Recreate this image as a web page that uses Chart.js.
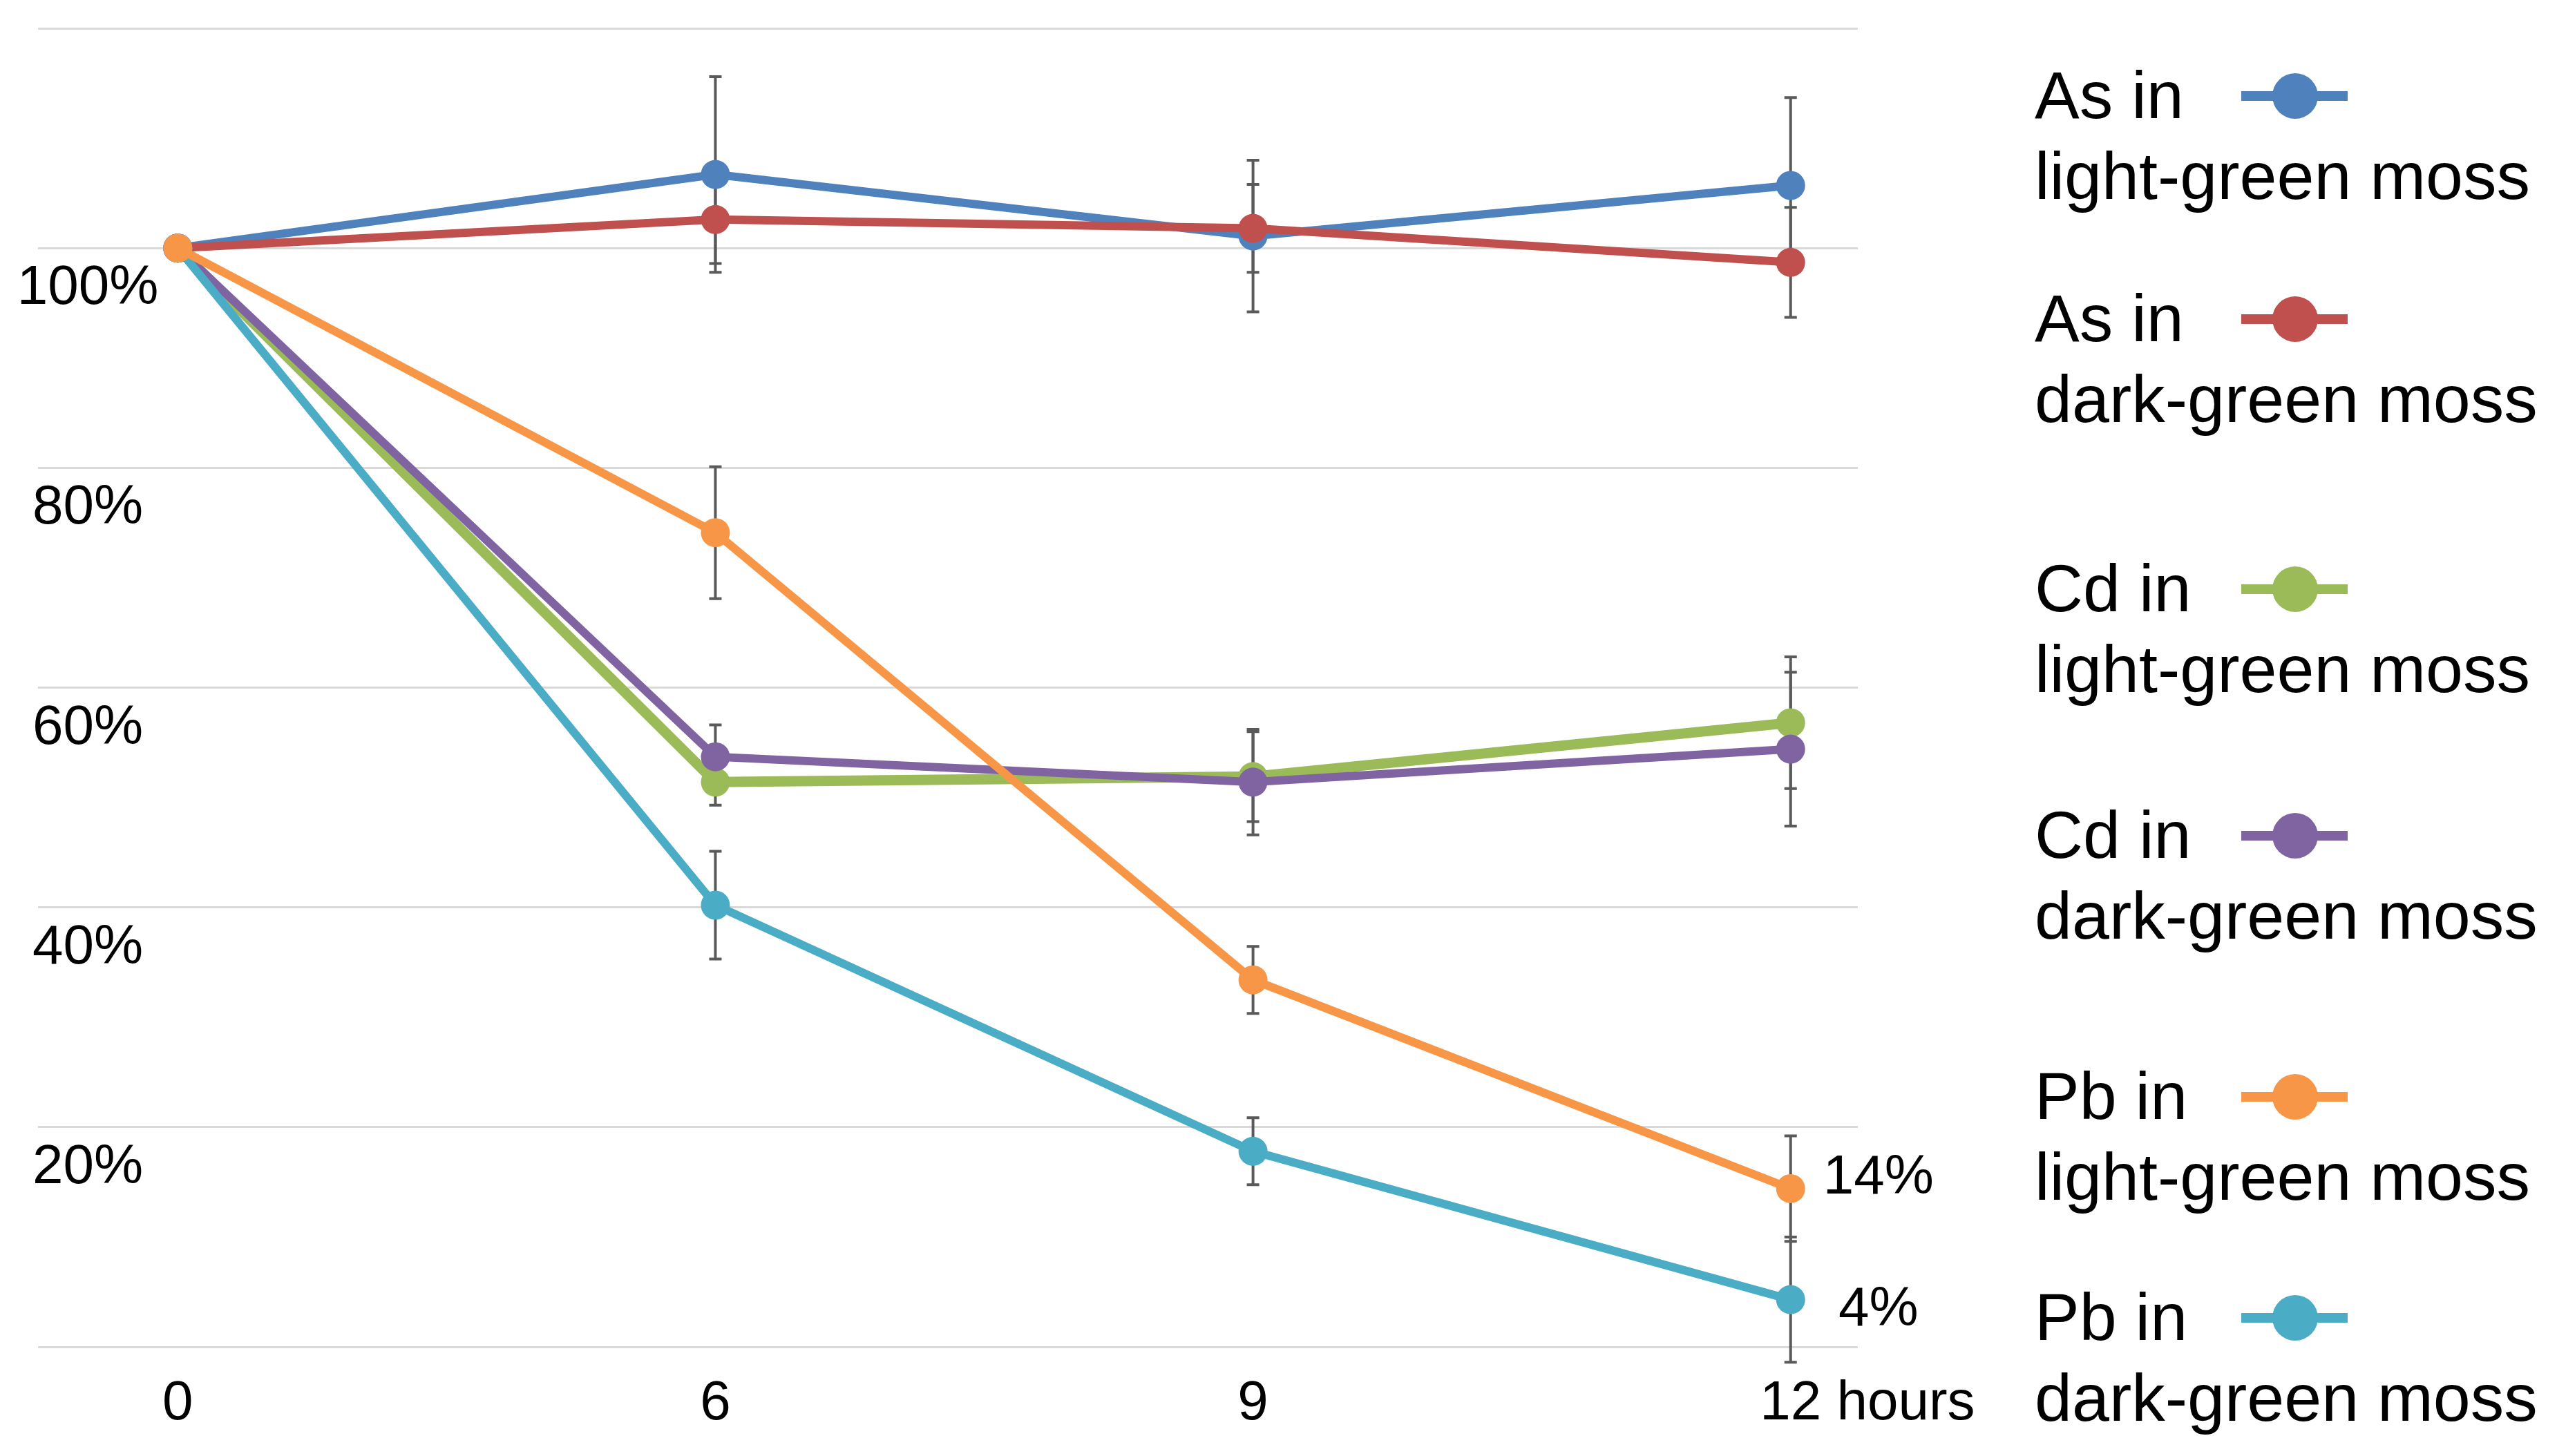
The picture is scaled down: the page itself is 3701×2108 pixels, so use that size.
<!DOCTYPE html>
<html>
<head>
<meta charset="utf-8">
<script src="https://cdn.jsdelivr.net/npm/chart.js@4.4.1/dist/chart.umd.min.js"></script>
<style>
  html, body { margin: 0; padding: 0; background: #fff; }
  #wrap { width: 3701px; height: 2108px; }
</style>
</head>
<body>
<div id="wrap"><canvas id="mossChart" width="3701" height="2108"></canvas></div>
<script>
// hours after exposure (equally spaced categories)
const hours = ['0', '6', '9', '12'];
const hoursUnit = 'hours';
const yTickValues = [20, 40, 60, 80, 100];

const seriesLabels = [
    'As in\nlight-green moss',
    'As in\ndark-green moss',
    'Cd in\nlight-green moss',
    'Cd in\ndark-green moss',
    'Pb in\nlight-green moss',
    'Pb in\ndark-green moss'
];

// remaining share, %
const asLight = [100, 106.7, 101.1, 105.7];
const asDark  = [100, 102.6, 101.8, 98.7];
const cdLight = [100, 51.4, 51.9, 56.8];
const cdDark  = [100, 53.7, 51.4, 54.4];
const pbLight = [100, 74.1, 33.4, 14.4];
const pbDark  = [100, 40.2, 17.8, 4.3];

// error bar half-widths, %
const asLightErr = [0, 8.9, 6.9, 8.0];
const asDarkErr  = [0, 4.0, 4.0, 5.0];
const cdLightErr = [0, 2.1, 4.1, 6.0];
const cdDarkErr  = [0, 2.9, 4.8, 7.0];
const pbLightErr = [0, 6.0, 3.05, 4.8];
const pbDarkErr  = [0, 4.9, 3.05, 5.7];

const pbEndLabels = ['14%', '4%'];

const FONT = '"Liberation Sans", Arial, sans-serif';

function toPoints(values) {
    return values.map((v, i) => ({ x: i, y: v }));
}

function lineSet(label, values, errors, color, order, width) {
    return {
        label: label,
        data: toPoints(values),
        errors: errors,
        borderColor: color,
        backgroundColor: color,
        pointBackgroundColor: color,
        pointBorderColor: color,
        borderWidth: width || 12,
        pointRadius: 21,
        pointBorderWidth: 0,
        tension: 0,
        order: order
    };
}

const datasets = [
    lineSet(seriesLabels[0], asLight, asLightErr, '#4F81BD', 5),
    lineSet(seriesLabels[1], asDark, asDarkErr, '#C0504D', 4),
    lineSet(seriesLabels[2], cdLight, cdLightErr, '#9BBB59', 3, 15),
    lineSet(seriesLabels[3], cdDark, cdDarkErr, '#8064A2', 2),
    lineSet(seriesLabels[4], pbLight, pbLightErr, '#F79646', 0),
    lineSet(seriesLabels[5], pbDark, pbDarkErr, '#4BACC6', 1)
];

// vertical error bars, drawn under the lines
const errorBars = {
    id: 'errorBars',
    beforeDatasetsDraw(chart) {
        const ctx = chart.ctx;
        const xs = chart.scales.x, ys = chart.scales.y;
        ctx.save();
        ctx.strokeStyle = '#5a5a5a';
        ctx.lineWidth = 4;
        chart.data.datasets.forEach(ds => {
            ds.data.forEach((p, i) => {
                const e = ds.errors[i];
                if (!e) return;
                const px = xs.getPixelForValue(p.x);
                const top = ys.getPixelForValue(p.y + e);
                const bot = ys.getPixelForValue(p.y - e);
                ctx.beginPath();
                ctx.moveTo(px, top); ctx.lineTo(px, bot);
                ctx.moveTo(px - 9, top); ctx.lineTo(px + 9, top);
                ctx.moveTo(px - 9, bot); ctx.lineTo(px + 9, bot);
                ctx.stroke();
            });
        });
        ctx.restore();
    }
};

// tick labels, end labels and legend
const decorations = {
    id: 'decorations',
    afterDraw(chart) {
        const ctx = chart.ctx;
        const xs = chart.scales.x, ys = chart.scales.y;
        const area = chart.chartArea;
        ctx.save();
        ctx.fillStyle = '#000';
        ctx.textBaseline = 'alphabetic';

        // y labels sit just under their gridlines
        ctx.font = '80px ' + FONT;
        ctx.textAlign = 'center';
        yTickValues.forEach(v => {
            ctx.fillText(v + '%', area.left + 72, ys.getPixelForValue(v) + 81);
        });

        // x labels
        const base = area.bottom + 105;
        hours.forEach((h, i) => {
            const px = xs.getPixelForValue(i);
            if (i === hours.length - 1) {
                const w = ctx.measureText(h).width;
                ctx.textAlign = 'left';
                ctx.fillText(h + ' ' + hoursUnit, px - w / 2, base);
            } else {
                ctx.textAlign = 'center';
                ctx.fillText(h, px, base);
            }
        });

        // labels at the last Pb points
        ctx.textAlign = 'center';
        ctx.textBaseline = 'middle';
        const last = hours.length - 1;
        const pbSets = [4, 5];
        const dys = [-15, 15];
        pbSets.forEach((di, k) => {
            const p = chart.data.datasets[di].data[last];
            ctx.fillText(pbEndLabels[k], xs.getPixelForValue(p.x) + 127, ys.getPixelForValue(p.y) + dys[k]);
        });

        // legend on the right, two lines per entry
        const baselines = [171, 494, 885, 1242, 1620, 1940];
        ctx.font = '97px ' + FONT;
        ctx.textAlign = 'left';
        ctx.textBaseline = 'alphabetic';
        chart.data.datasets.forEach((ds, i) => {
            const lines = ds.label.split('\n');
            const b = baselines[i];
            ctx.fillStyle = '#000';
            ctx.fillText(lines[0], 2945, b);
            ctx.fillText(lines[1], 2945, b + 117);
            const my = b - 32;
            ctx.strokeStyle = ds.borderColor;
            ctx.lineWidth = 14;
            ctx.beginPath();
            ctx.moveTo(3244, my); ctx.lineTo(3398, my);
            ctx.stroke();
            ctx.fillStyle = ds.pointBackgroundColor;
            ctx.beginPath();
            ctx.arc(3322, my, 33, 0, Math.PI * 2);
            ctx.fill();
        });
        ctx.restore();
    }
};

new Chart(document.getElementById('mossChart'), {
    type: 'line',
    data: { datasets: datasets },
    options: {
        responsive: false,
        devicePixelRatio: 1,
        animation: false,
        layout: { padding: { left: 55, right: 1012, top: 41, bottom: 158 } },
        plugins: { legend: { display: false }, tooltip: { enabled: false } },
        scales: {
            x: { type: 'linear', min: -0.26, max: 3.125, display: false },
            y: {
                min: 0,
                max: 120,
                ticks: { stepSize: 20, display: false },
                grid: { color: '#d9d9d9', lineWidth: 3, drawTicks: false },
                border: { display: false },
                afterFit: s => { s.width = 0; }
            }
        }
    },
    plugins: [errorBars, decorations]
});
</script>
</body>
</html>
